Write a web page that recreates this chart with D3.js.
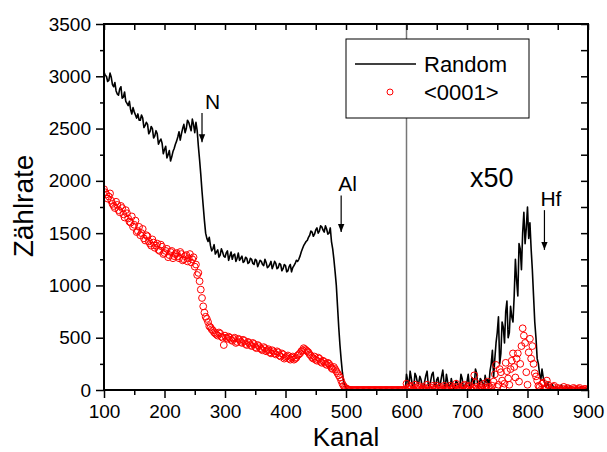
<!DOCTYPE html>
<html>
<head>
<meta charset="utf-8">
<script src="https://cdn.jsdelivr.net/npm/d3@7"></script>
<style>
  body { margin: 0; background: #fff; }
  svg { font-family: "Liberation Sans", Arial, sans-serif; }
  .axis path { display: none; }
  .axis line { stroke: #000; stroke-width: 1.5; }
  .axis text { font-size: 19px; fill: #000; }
</style>
</head>
<body>
<svg id="chart" width="607" height="452"></svg>
<script>
const margin = { top: 24, right: 19, bottom: 62, left: 104 };
const width = 607 - margin.left - margin.right;
const height = 452 - margin.top - margin.bottom;

// two interleaved channel sets: 100,104,...,900 and 102,106,...,898
const channelStep = 4;
const evenStart = 100;
const oddStart = 102;

// "Random" spectrum, channels 100..900 (600..900 shown x50)
const randomEven = [
  3040, 3000, 2960, 2990, 2900, 2860, 2820, 2900, 2800, 2760,   // 100
  2720, 2680, 2700, 2630, 2640, 2580, 2600, 2530, 2540, 2470,   // 140
  2500, 2430, 2450, 2380, 2360, 2300, 2220, 2290, 2230, 2310,   // 180
  2380, 2470, 2450, 2540, 2500, 2560, 2480, 2540, 2560, 2330,   // 220
  2060, 1760, 1500, 1420, 1380, 1350, 1300, 1340, 1290, 1320,   // 260
  1270, 1330, 1280, 1250, 1300, 1260, 1240, 1280, 1230, 1260,   // 300
  1220, 1250, 1200, 1240, 1210, 1230, 1190, 1220, 1180, 1230,   // 340
  1190, 1210, 1170, 1200, 1160, 1190, 1140, 1200, 1170, 1210,   // 380
  1230, 1280, 1350, 1400, 1430, 1480, 1510, 1490, 1550, 1520,   // 420
  1560, 1510, 1540, 1500, 1420, 1250, 1000, 600, 290, 80,       // 460
  20, 5, 0, 3, 0, 2, 0, 4, 0, 2,                                // 500
  0, 3, 0, 1, 0, 4, 0, 2, 0, 3,                                 // 540
  0, 2, 0, 3, 0, 150, 40, 110, 20, 130,                         // 580
  60, 100, 10, 140, 50, 90, 170, 30, 120, 60,                   // 620
  190, 20, 80, 10, 50, 30, 70, 20, 110, 40,                     // 660
  80, 30, 120, 50, 160, 40, 90, 20, 70, 30,                     // 700
  250, 120, 450, 700, 350, 600, 750, 500, 800, 650,             // 740
  1250, 900, 1350, 1500, 1400, 1750, 1600, 1150, 650, 300,      // 780
  150, 200, 80, 40, 10, 60, 5, 30, 0, 50,                       // 820
  10, 40, 0, 30, 0, 20, 0, 30, 10, 20,                          // 860
  0                                                             // 900
];

// "Random" spectrum, channels 102..898
const randomOdd = [
  3010, 2950, 3030, 2920, 2940, 2830, 2880, 2790, 2850, 2740,   // 102
  2760, 2640, 2660, 2600, 2580, 2630, 2510, 2560, 2450, 2520,   // 142
  2410, 2480, 2350, 2400, 2260, 2330, 2250, 2190, 2280, 2350,   // 182
  2420, 2390, 2500, 2460, 2580, 2520, 2590, 2460, 2480, 2200,   // 222
  1900, 1620, 1450, 1460, 1330, 1390, 1320, 1270, 1350, 1280,   // 262
  1310, 1240, 1320, 1290, 1230, 1310, 1260, 1220, 1270, 1210,   // 302
  1260, 1210, 1250, 1180, 1240, 1200, 1250, 1170, 1200, 1160,   // 342
  1230, 1160, 1210, 1140, 1200, 1130, 1180, 1130, 1190, 1240,   // 382
  1250, 1320, 1380, 1420, 1460, 1520, 1470, 1530, 1500, 1570,   // 422
  1530, 1570, 1490, 1550, 1350, 1130, 800, 430, 170, 40,        // 462
  10, 0, 2, 0, 3, 0, 1, 0, 3, 0,                                // 502
  2, 0, 3, 0, 1, 0, 3, 0, 2, 0,                                 // 542
  3, 0, 2, 0, 1, 90, 180, 30, 160, 70,                          // 582
  130, 30, 80, 180, 20, 150, 60, 100, 40, 130,                  // 622
  70, 150, 40, 110, 10, 90, 40, 150, 20, 60,                    // 662
  150, 10, 90, 200, 20, 110, 60, 140, 100, 180,                 // 702
  380, 300, 550, 250, 650, 450, 850, 550, 700, 900,             // 742
  1050, 1400, 1150, 1700, 1550, 1450, 1350, 900, 500, 250,      // 782
  100, 120, 30, 70, 0, 40, 20, 0, 30, 10,                       // 822
  0, 20, 40, 0, 10, 30, 0, 20, 0, 10                            // 862
];

// "<0001>" aligned spectrum, channels 100..900
const alignedEven = [
  1920, 1870, 1850, 1810, 1760, 1800, 1720, 1760, 1680, 1720,   // 100
  1640, 1600, 1560, 1620, 1520, 1480, 1540, 1430, 1470, 1400,   // 140
  1440, 1360, 1400, 1330, 1370, 1310, 1350, 1290, 1330, 1280,   // 180
  1310, 1260, 1300, 1250, 1290, 1260, 1220, 1270, 1200, 1120,   // 220
  960, 800, 700, 650, 600, 570, 540, 520, 540, 500,             // 260
  520, 490, 500, 470, 500, 460, 480, 450, 470, 430,             // 300
  450, 420, 440, 400, 420, 390, 410, 370, 390, 350,             // 340
  370, 340, 360, 320, 340, 310, 330, 290, 320, 300,             // 380
  330, 350, 380, 390, 370, 340, 310, 320, 280, 300,             // 420
  260, 270, 240, 250, 210, 220, 180, 140, 90, 40,               // 460
  15, 5, 0, 0, 0, 0, 0, 0, 0, 0,                                // 500
  0, 0, 0, 0, 0, 0, 0, 0, 0, 0,                                 // 540
  0, 0, 0, 0, 0, 60, 10, 30, 0, 20,                             // 580
  40, 0, 30, 10, 20, 0, 40, 10, 0, 30,                          // 620
  0, 20, 0, 40, 10, 0, 30, 0, 20, 50,                           // 660
  10, 40, 0, 140, 30, 0, 20, 60, 0, 30,                         // 700
  10, 80, 240, 50, 170, 20, 260, 110, 200, 350,                 // 740
  120, 350, 250, 590, 450, 50, 490, 420, 160, 90,               // 780
  30, 60, 0, 90, 20, 0, 40, 0, 10, 0,                           // 820
  30, 0, 10, 0, 20, 0, 10, 0, 0, 10,                            // 860
  0                                                             // 900
];

// "<0001>" aligned spectrum, channels 102..898
const alignedOdd = [
  1890, 1830, 1880, 1780, 1740, 1770, 1700, 1740, 1650, 1690,   // 102
  1610, 1660, 1580, 1510, 1560, 1500, 1450, 1480, 1420, 1380,   // 142
  1410, 1380, 1340, 1390, 1300, 1330, 1270, 1320, 1260, 1300,   // 182
  1280, 1320, 1240, 1280, 1230, 1300, 1250, 1180, 1100, 1040,   // 222
  880, 740, 680, 610, 580, 550, 530, 550, 510, 430,             // 262
  500, 510, 480, 490, 450, 490, 460, 480, 440, 460,             // 302
  430, 450, 410, 430, 400, 380, 400, 380, 360, 380,             // 342
  350, 370, 330, 350, 300, 320, 300, 310, 290, 310,             // 382
  340, 370, 400, 380, 360, 330, 300, 290, 310, 270,             // 422
  280, 250, 260, 230, 200, 200, 160, 120, 60, 25,               // 462
  10, 0, 0, 0, 0, 0, 0, 0, 0, 0,                                // 502
  0, 0, 0, 0, 0, 0, 0, 0, 0, 0,                                 // 542
  0, 0, 0, 0, 0, 20, 40, 0, 50, 10,                             // 582
  20, 10, 0, 50, 0, 20, 10, 40, 20, 0,                          // 622
  40, 10, 20, 0, 30, 60, 10, 0, 40, 10,                         // 662
  30, 0, 20, 70, 10, 40, 0, 20, 80, 0,                          // 702
  40, 150, 30, 200, 90, 60, 180, 50, 280, 220,                  // 742
  300, 80, 420, 520, 170, 360, 300, 250, 130, 40,               // 782
  0, 70, 20, 50, 0, 30, 0, 20, 0, 10,                           // 822
  0, 20, 0, 0, 10, 0, 20, 0, 10, 0                              // 862
];

const xMajorTicks = [100, 200, 300, 400, 500, 600, 700, 800, 900];
const xMinorTicks = [150, 250, 350, 450, 550, 650, 750, 850];
const yMajorTicks = [0, 500, 1000, 1500, 2000, 2500, 3000, 3500];
const yMinorTicks = [250, 750, 1250, 1750, 2250, 2750, 3250];

// peak markers: label, channel, arrow top / bottom (in counts)
const markers = [
  { label: "N", channel: 262, top: 2650, bottom: 2370, dx: 3 },
  { label: "Al", channel: 492, top: 1860, bottom: 1510, dx: -3 },
  { label: "Hf", channel: 828, top: 1720, bottom: 1340, dx: -4 }
];

const svg = d3.select("#chart");
svg.append("rect").attr("width", 607).attr("height", 452).attr("fill", "#fff");

const g = svg.append("g").attr("transform", `translate(${margin.left},${margin.top})`);

const x = d3.scaleLinear().domain([100, 900]).range([0, width]);
const y = d3.scaleLinear().domain([0, 3500]).range([height, 0]);

function merge(even, odd) {
  const pts = even.map((v, i) => ({ k: evenStart + i * channelStep, v }))
    .concat(odd.map((v, i) => ({ k: oddStart + i * channelStep, v })));
  return pts.sort((a, b) => a.k - b.k);
}
const randomData = merge(randomEven, randomOdd);
const alignedData = merge(alignedEven, alignedOdd);

g.append("clipPath").attr("id", "plot-clip")
  .append("rect").attr("width", width).attr("height", height);

// x50 separator
g.append("line")
  .attr("x1", x(600)).attr("x2", x(600))
  .attr("y1", 0).attr("y2", height)
  .attr("stroke", "#777").attr("stroke-width", 1.5);

const plot = g.append("g").attr("clip-path", "url(#plot-clip)");

const line = d3.line().x(d => x(d.k)).y(d => y(d.v));
plot.append("path")
  .datum(randomData)
  .attr("d", line)
  .attr("fill", "none")
  .attr("stroke", "#000")
  .attr("stroke-width", 1.6)
  .attr("stroke-linejoin", "round");

plot.selectAll(".pt")
  .data(alignedData)
  .enter().append("circle")
  .attr("class", "pt")
  .attr("cx", d => x(d.k))
  .attr("cy", d => y(d.v))
  .attr("r", 3.4)
  .attr("fill", "none")
  .attr("stroke", "#f00")
  .attr("stroke-width", 1);

// axes
g.append("g").attr("class", "axis").attr("transform", `translate(0,${height})`)
  .call(d3.axisBottom(x).tickValues(xMajorTicks).tickSize(8).tickPadding(7).tickFormat(d3.format("d")));
g.append("g").attr("class", "axis").attr("transform", `translate(0,${height})`)
  .call(d3.axisBottom(x).tickValues(xMinorTicks).tickSize(5).tickFormat(""));
g.append("g").attr("class", "axis")
  .call(d3.axisLeft(y).tickValues(yMajorTicks).tickSize(8).tickPadding(5).tickFormat(d3.format("d")));
g.append("g").attr("class", "axis")
  .call(d3.axisLeft(y).tickValues(yMinorTicks).tickSize(4).tickFormat(""));
g.append("g").attr("class", "axis")
  .call(d3.axisTop(x).tickValues(xMajorTicks.concat(xMinorTicks)).tickSize(-6).tickFormat(""));
g.append("g").attr("class", "axis").attr("transform", `translate(${width},0)`)
  .call(d3.axisRight(y).tickValues(yMajorTicks.concat(yMinorTicks)).tickSize(-7).tickFormat(""));

g.append("rect")
  .attr("width", width).attr("height", height)
  .attr("fill", "none").attr("stroke", "#000").attr("stroke-width", 2);

// axis titles
svg.append("text")
  .attr("x", margin.left + width / 2).attr("y", 446)
  .attr("text-anchor", "middle")
  .style("font-size", "26px")
  .text("Kanal");
svg.append("text")
  .attr("transform", "translate(33,206) rotate(-90)")
  .attr("text-anchor", "middle")
  .style("font-size", "28px")
  .text("Zählrate");

// peak arrows
const defs = svg.append("defs");
defs.append("marker").attr("id", "arrow")
  .attr("viewBox", "0 0 10 10").attr("refX", 10).attr("refY", 5)
  .attr("markerWidth", 8).attr("markerHeight", 8).attr("orient", "auto")
  .attr("markerUnits", "userSpaceOnUse")
  .append("path").attr("d", "M0,1 L10,5 L0,9 Z").attr("fill", "#000");

markers.forEach(m => {
  g.append("line")
    .attr("x1", x(m.channel)).attr("x2", x(m.channel))
    .attr("y1", y(m.top)).attr("y2", y(m.bottom))
    .attr("stroke", "#000").attr("stroke-width", 1.2)
    .attr("marker-end", "url(#arrow)");
  g.append("text")
    .attr("x", x(m.channel) + m.dx).attr("y", y(m.top) - 4)
    .style("font-size", "21px")
    .text(m.label);
});

g.append("text")
  .attr("x", 470 - margin.left).attr("y", 187 - margin.top)
  .style("font-size", "27px")
  .text("x50");

// legend
const legend = svg.append("g").attr("transform", "translate(346,39)");
legend.append("rect")
  .attr("width", 183).attr("height", 79)
  .attr("fill", "#fff").attr("stroke", "#000").attr("stroke-width", 1);
legend.append("line")
  .attr("x1", 9).attr("x2", 70).attr("y1", 25).attr("y2", 25)
  .attr("stroke", "#000").attr("stroke-width", 1.5);
legend.append("text").attr("x", 78).attr("y", 33).style("font-size", "22px").text("Random");
legend.append("circle")
  .attr("cx", 44).attr("cy", 53).attr("r", 3)
  .attr("fill", "none").attr("stroke", "#f00").attr("stroke-width", 1);
legend.append("text").attr("x", 78).attr("y", 61).style("font-size", "22px").text("<0001>");
</script>
</body>
</html>
